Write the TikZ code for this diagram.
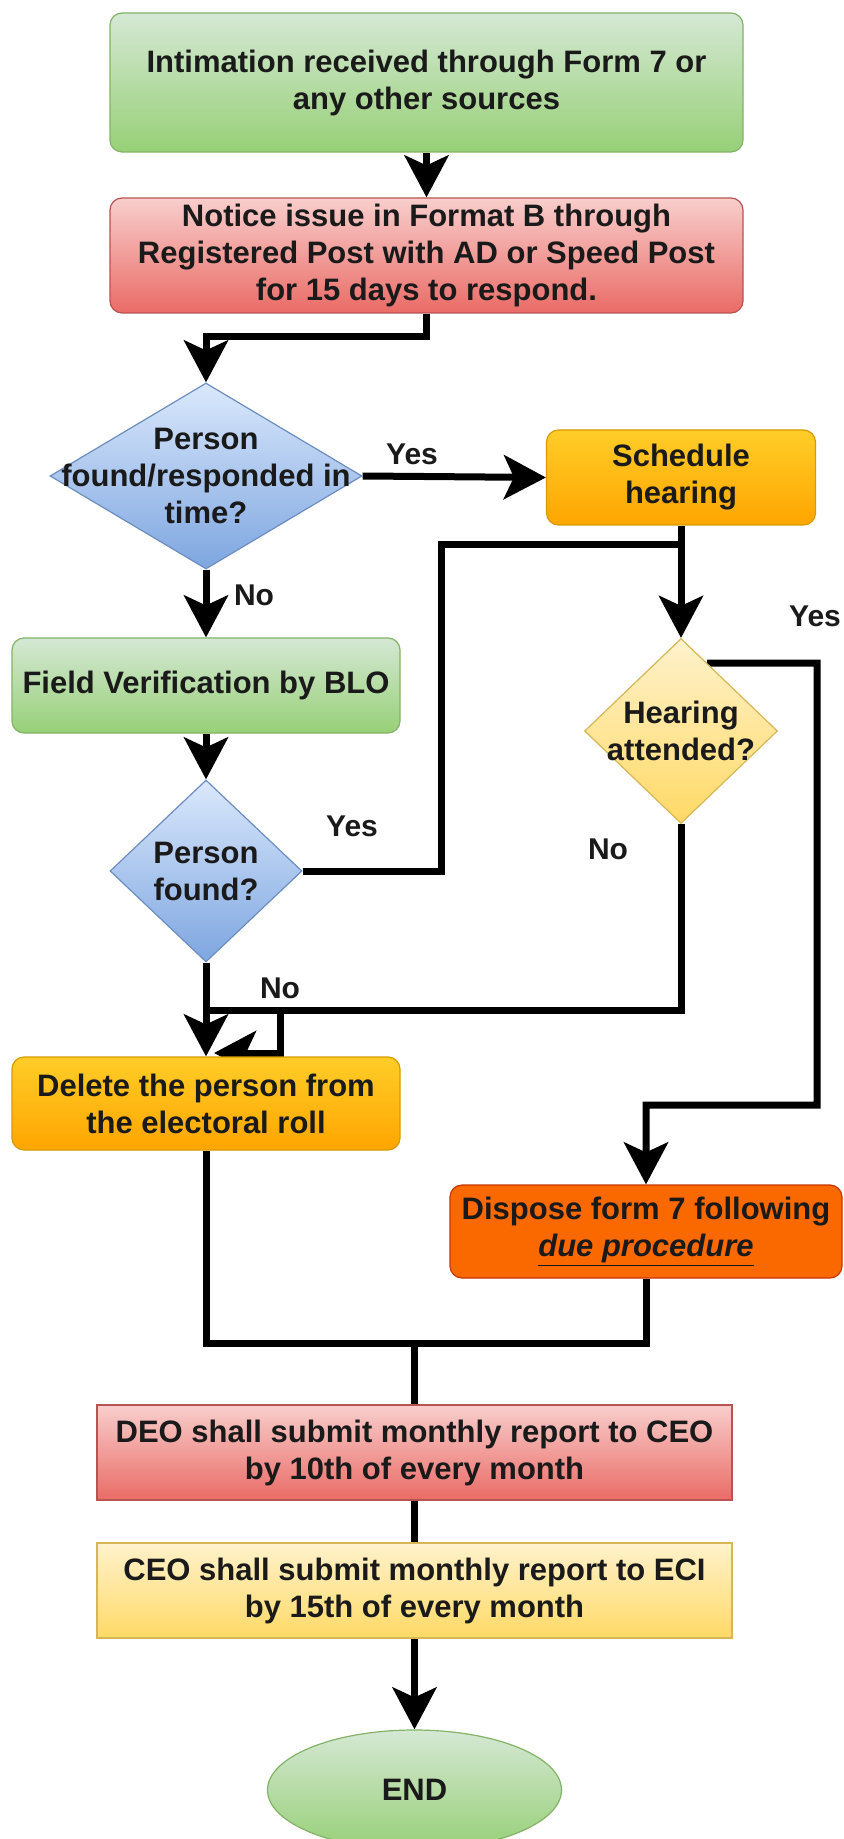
\documentclass[tikz,border=0pt]{standalone}
\usepackage{fontspec}
\setmainfont{Liberation Sans}
\usetikzlibrary{shapes.geometric,arrows.meta,backgrounds,calc}
\pgfdeclarelayer{bgzero}
\pgfsetlayers{bgzero,background,main}
\definecolor{txt}{HTML}{1A1A1A}
\definecolor{grT}{HTML}{D5E8D4}
\definecolor{grB}{HTML}{97D077}
\definecolor{grS}{HTML}{82B366}
\definecolor{rdT}{HTML}{F8CECC}
\definecolor{rdB}{HTML}{EA6B66}
\definecolor{rdS}{HTML}{B85450}
\definecolor{blT}{HTML}{DAE8FC}
\definecolor{blB}{HTML}{7EA6E0}
\definecolor{blS}{HTML}{6C8EBF}
\definecolor{orT}{HTML}{FFCD28}
\definecolor{orB}{HTML}{FFA500}
\definecolor{orS}{HTML}{D79B00}
\definecolor{yeT}{HTML}{FFF2CC}
\definecolor{yeB}{HTML}{FFD966}
\definecolor{yeS}{HTML}{D6B656}
\definecolor{dpF}{HTML}{FA6800}
\definecolor{dpS}{HTML}{C73500}
\begin{document}
\begin{tikzpicture}[x=0.5pt,y=-0.5pt,
  base/.style={font=\bfseries\fontsize{15.5}{18.5}\selectfont, text=txt, align=center, inner sep=0pt, line width=0.6pt},
  rbox/.style={base, rectangle, rounded corners=6pt},
  sbox/.style={base, rectangle},
  dia/.style={base, diamond},
  fgreen/.style={top color=grT, bottom color=grB, draw=grS},
  fred/.style={top color=rdT, bottom color=rdB, draw=rdS},
  fblue/.style={top color=blT, bottom color=blB, draw=blS},
  forange/.style={top color=orT, bottom color=orB, draw=orS},
  fyellow/.style={top color=yeT, bottom color=yeB, draw=yeS},
  fdispose/.style={fill=dpF, draw=dpS},
  conn/.style={line width=3.5pt, draw=black},
  arr/.style={conn, -{Stealth[length=21pt,width=22pt,inset=5pt]}},
  lbl/.style={font=\bfseries\fontsize{15}{18}\selectfont, text=txt, inner sep=0pt}
]
\useasboundingbox (0,0) rectangle (844,1839);
\begin{pgfonlayer}{bgzero}
\fill[white] (0,0) rectangle (844,1839);
\end{pgfonlayer}

% nodes
\node[rbox, fgreen, minimum width=316.5pt, minimum height=69.5pt] (n1) at (426.5,82.5)
  {Intimation received through Form 7 or\\any other sources};
\node[rbox, fred, minimum width=316.5pt, minimum height=57.5pt] (n2) at (426.5,255.5)
  {Notice issue in Format B through\\Registered Post with AD or Speed Post\\for 15 days to respond.};
\node[dia, fblue, minimum width=156pt, minimum height=93pt,
  label={[base]center:Person\\found/responded in\\time?}] (d1) at (206,476) {};
\node[rbox, forange, minimum width=134.5pt, minimum height=47.5pt] (sched) at (681,477.5)
  {Schedule\\hearing};
\node[rbox, fgreen, minimum width=194pt, minimum height=47.5pt] (field) at (206,685.5)
  {Field Verification by BLO};
\node[dia, fyellow, minimum width=96.5pt, minimum height=92.5pt,
  label={[base]center:Hearing\\attended?}] (hear) at (681,731) {};
\node[dia, fblue, minimum width=96pt, minimum height=91pt,
  label={[base]center:Person\\found?}] (pf) at (206,871) {};
\node[rbox, forange, minimum width=194pt, minimum height=46.5pt] (del) at (206,1103.5)
  {Delete the person from\\the electoral roll};
\node[rbox, fdispose, minimum width=196pt, minimum height=46.5pt] (disp) at (646,1231.5)
  {Dispose form 7 following\\\underline{\textit{due procedure}}};
\node[sbox, fred, minimum width=317.5pt, minimum height=47.5pt] (deo) at (414.5,1452.5)
  {DEO shall submit monthly report to CEO\\by 10th of every month};
\node[sbox, fyellow, minimum width=317.5pt, minimum height=47.5pt] (ceo) at (414.5,1590.5)
  {CEO shall submit monthly report to ECI\\by 15th of every month};
\node[base, ellipse, fgreen, minimum width=147pt, minimum height=60pt] (end) at (414.5,1790) {END};

% labels
\node[lbl] (yes1) at (412,454) {Yes};
\node[lbl] (no1) at (254,595) {No};
\node[lbl] (yes2) at (815,616) {Yes};
\node[lbl] (yes3) at (352,826) {Yes};
\node[lbl] (no2) at (608,849) {No};
\node[lbl] (no3) at (280,988) {No};

% junctions
\coordinate (j1) at (206,337);
\coordinate (j2) at (681,545);
\coordinate (j3) at (646,1105);
\coordinate (j4) at (206,1010);
\coordinate (j5) at (280,1010);
\coordinate (j6) at (280,1053);
\coordinate (j7) at (214,1053);
\coordinate (j8) at (414.5,1343);
\coordinate (hy) at ($(hear.north)!0.27!(hear.east)$);

\begin{scope}[on background layer]
\draw[arr] (n1.south) -- (n2.north);
\draw[arr] (n2.south) |- (j1) -- (d1.north);
\draw[arr] (d1.east) -- (sched.west);
\draw[arr] (d1.south) -- (field.north);
\draw[arr] (field.south) -- (pf.north);
\draw[arr] (sched.south) -- (hear.north);
\draw[conn] (pf.east) -- (441,871) |- (j2);
\draw[arr] (hy) -- (817,663) |- (j3) -- (disp.north);
\draw[conn] (hear.south) |- (j4);
\draw[arr] (j5) -- (j6) -- (j7);
\draw[arr] (pf.south) -- (del.north);
\draw[conn] (del.south) |- (j8);
\draw[conn] (disp.south) |- (j8);
\draw[conn] (j8) -- (deo.north);
\draw[conn] (deo.south) -- (ceo.north);
\draw[arr] (ceo.south) -- (end.north);
\end{scope}
\end{tikzpicture}
\end{document}
